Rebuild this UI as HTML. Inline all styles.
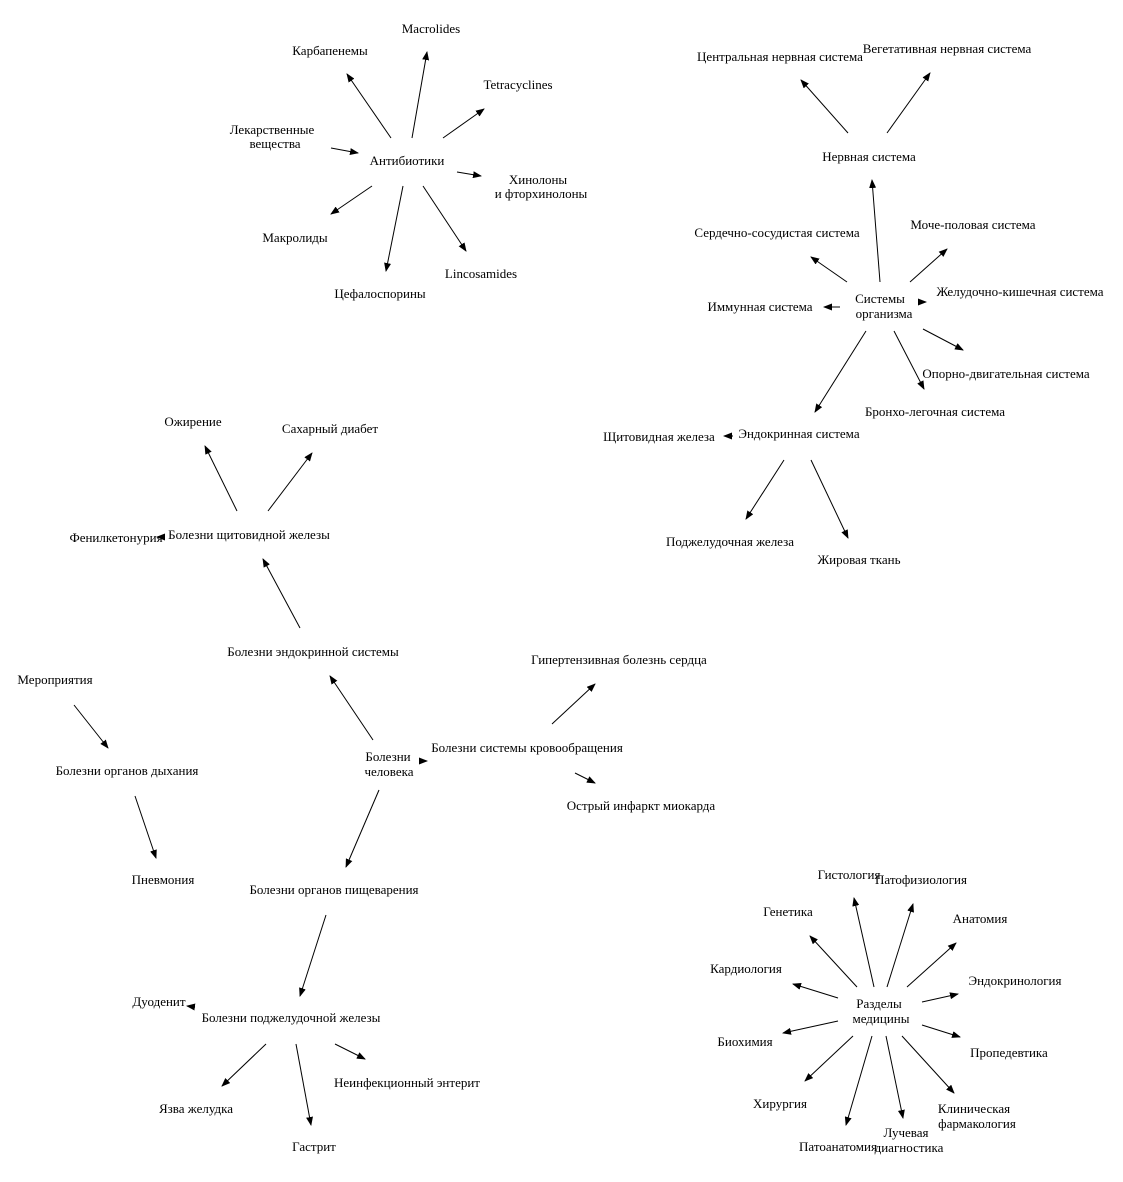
<!DOCTYPE html>
<html><head><meta charset="utf-8"><style>
html,body{margin:0;padding:0;background:#fff;}
svg text{font-family:"Liberation Serif",serif;font-size:13px;fill:#000;text-anchor:middle;dominant-baseline:middle;}
line{stroke:#000;stroke-width:1;}
</style></head><body>
<svg width="1123" height="1177" viewBox="0 0 1123 1177" xmlns="http://www.w3.org/2000/svg">
<defs><marker id="a" markerWidth="9" markerHeight="7" refX="8" refY="3.5" orient="auto" markerUnits="userSpaceOnUse"><path d="M0,0 L9,3.5 L0,7 z" fill="#000"/></marker></defs>
<g marker-end="url(#a)">
<line x1="391" y1="138" x2="347" y2="74"/><line x1="412" y1="138" x2="427" y2="52"/><line x1="443" y1="138" x2="484" y2="109"/><line x1="331" y1="148" x2="358" y2="153"/><line x1="457" y1="172" x2="481" y2="176"/><line x1="372" y1="186" x2="331" y2="214"/><line x1="403" y1="186" x2="386" y2="271"/><line x1="423" y1="186" x2="466" y2="251"/>
<line x1="848" y1="133" x2="801" y2="80"/><line x1="887" y1="133" x2="930" y2="73"/><line x1="880" y1="282" x2="872" y2="180"/><line x1="847" y1="282" x2="811" y2="257"/><line x1="910" y1="282" x2="947" y2="249"/><line x1="840" y1="307" x2="824" y2="307"/><line x1="918" y1="302" x2="926" y2="302"/><line x1="923" y1="329" x2="963" y2="350"/><line x1="894" y1="331" x2="924" y2="389"/><line x1="866" y1="331" x2="815" y2="412"/><line x1="733" y1="436" x2="724" y2="436"/><line x1="784" y1="460" x2="746" y2="519"/><line x1="811" y1="460" x2="848" y2="538"/>
<line x1="237" y1="511" x2="205" y2="446"/><line x1="268" y1="511" x2="312" y2="453"/><line x1="165" y1="537" x2="157" y2="537"/><line x1="300" y1="628" x2="263" y2="559"/><line x1="373" y1="740" x2="330" y2="676"/><line x1="420" y1="761" x2="427" y2="761"/><line x1="552" y1="724" x2="595" y2="684"/><line x1="575" y1="773" x2="595" y2="783"/><line x1="74" y1="705" x2="108" y2="748"/><line x1="135" y1="796" x2="156" y2="858"/><line x1="379" y1="790" x2="346" y2="867"/><line x1="326" y1="915" x2="300" y2="996"/><line x1="195" y1="1007" x2="187" y2="1006"/><line x1="266" y1="1044" x2="222" y2="1086"/><line x1="296" y1="1044" x2="311" y2="1125"/><line x1="335" y1="1044" x2="365" y2="1059"/>
<line x1="874" y1="987" x2="854" y2="898"/><line x1="887" y1="987" x2="913" y2="904"/><line x1="857" y1="987" x2="810" y2="936"/><line x1="907" y1="987" x2="956" y2="943"/><line x1="838" y1="998" x2="793" y2="984"/><line x1="922" y1="1002" x2="958" y2="994"/><line x1="838" y1="1021" x2="783" y2="1033"/><line x1="922" y1="1025" x2="960" y2="1037"/><line x1="853" y1="1036" x2="805" y2="1081"/><line x1="872" y1="1036" x2="846" y2="1125"/><line x1="886" y1="1036" x2="903" y2="1118"/><line x1="902" y1="1036" x2="954" y2="1093"/>
</g>
<g transform="translate(0,1)">
<text x="407" y="161">Антибиотики</text><text x="431" y="29">Macrolides</text><text x="330" y="51">Карбапенемы</text><text x="518" y="85">Tetracyclines</text><text x="272" y="130">Лекарственные</text><text x="275" y="144">вещества</text><text x="538" y="180">Хинолоны</text><text x="541" y="194">и фторхинолоны</text><text x="295" y="238">Макролиды</text><text x="481" y="274">Lincosamides</text><text x="380" y="294">Цефалоспорины</text>
<text x="780" y="57">Центральная нервная система</text><text x="947" y="49">Вегетативная нервная система</text><text x="869" y="157">Нервная система</text><text x="777" y="233">Сердечно-сосудистая система</text><text x="973" y="225">Моче-половая система</text><text x="760" y="307">Иммунная система</text><text x="880" y="299">Системы</text><text x="884" y="314">организма</text><text x="1020" y="292">Желудочно-кишечная система</text><text x="1006" y="374">Опорно-двигательная система</text><text x="935" y="412">Бронхо-легочная система</text><text x="659" y="437">Щитовидная железа</text><text x="799" y="434">Эндокринная система</text><text x="730" y="542">Поджелудочная железа</text><text x="859" y="560">Жировая ткань</text>
<text x="193" y="422">Ожирение</text><text x="330" y="429">Сахарный диабет</text><text x="116" y="538">Фенилкетонурия</text><text x="249" y="535">Болезни щитовидной железы</text><text x="313" y="652">Болезни эндокринной системы</text><text x="55" y="680">Мероприятия</text><text x="127" y="771">Болезни органов дыхания</text><text x="388" y="757">Болезни</text><text x="389" y="772">человека</text><text x="527" y="748">Болезни системы кровообращения</text><text x="619" y="660">Гипертензивная болезнь сердца</text><text x="641" y="806">Острый инфаркт миокарда</text><text x="163" y="880">Пневмония</text><text x="334" y="890">Болезни органов пищеварения</text><text x="159" y="1002">Дуоденит</text><text x="291" y="1018">Болезни поджелудочной железы</text><text x="407" y="1083">Неинфекционный энтерит</text><text x="196" y="1109">Язва желудка</text><text x="314" y="1147">Гастрит</text>
<text x="849" y="875">Гистология</text><text x="921" y="880">Патофизиология</text><text x="788" y="912">Генетика</text><text x="980" y="919">Анатомия</text><text x="746" y="969">Кардиология</text><text x="1015" y="981">Эндокринология</text><text x="879" y="1004">Разделы</text><text x="881" y="1019">медицины</text><text x="745" y="1042">Биохимия</text><text x="1009" y="1053">Пропедевтика</text><text x="780" y="1104">Хирургия</text><text x="974" y="1109">Клиническая</text><text x="977" y="1124">фармакология</text><text x="906" y="1133">Лучевая</text><text x="909" y="1148">диагностика</text><text x="838" y="1147">Патоанатомия</text>
</g>
</svg>
</body></html>
